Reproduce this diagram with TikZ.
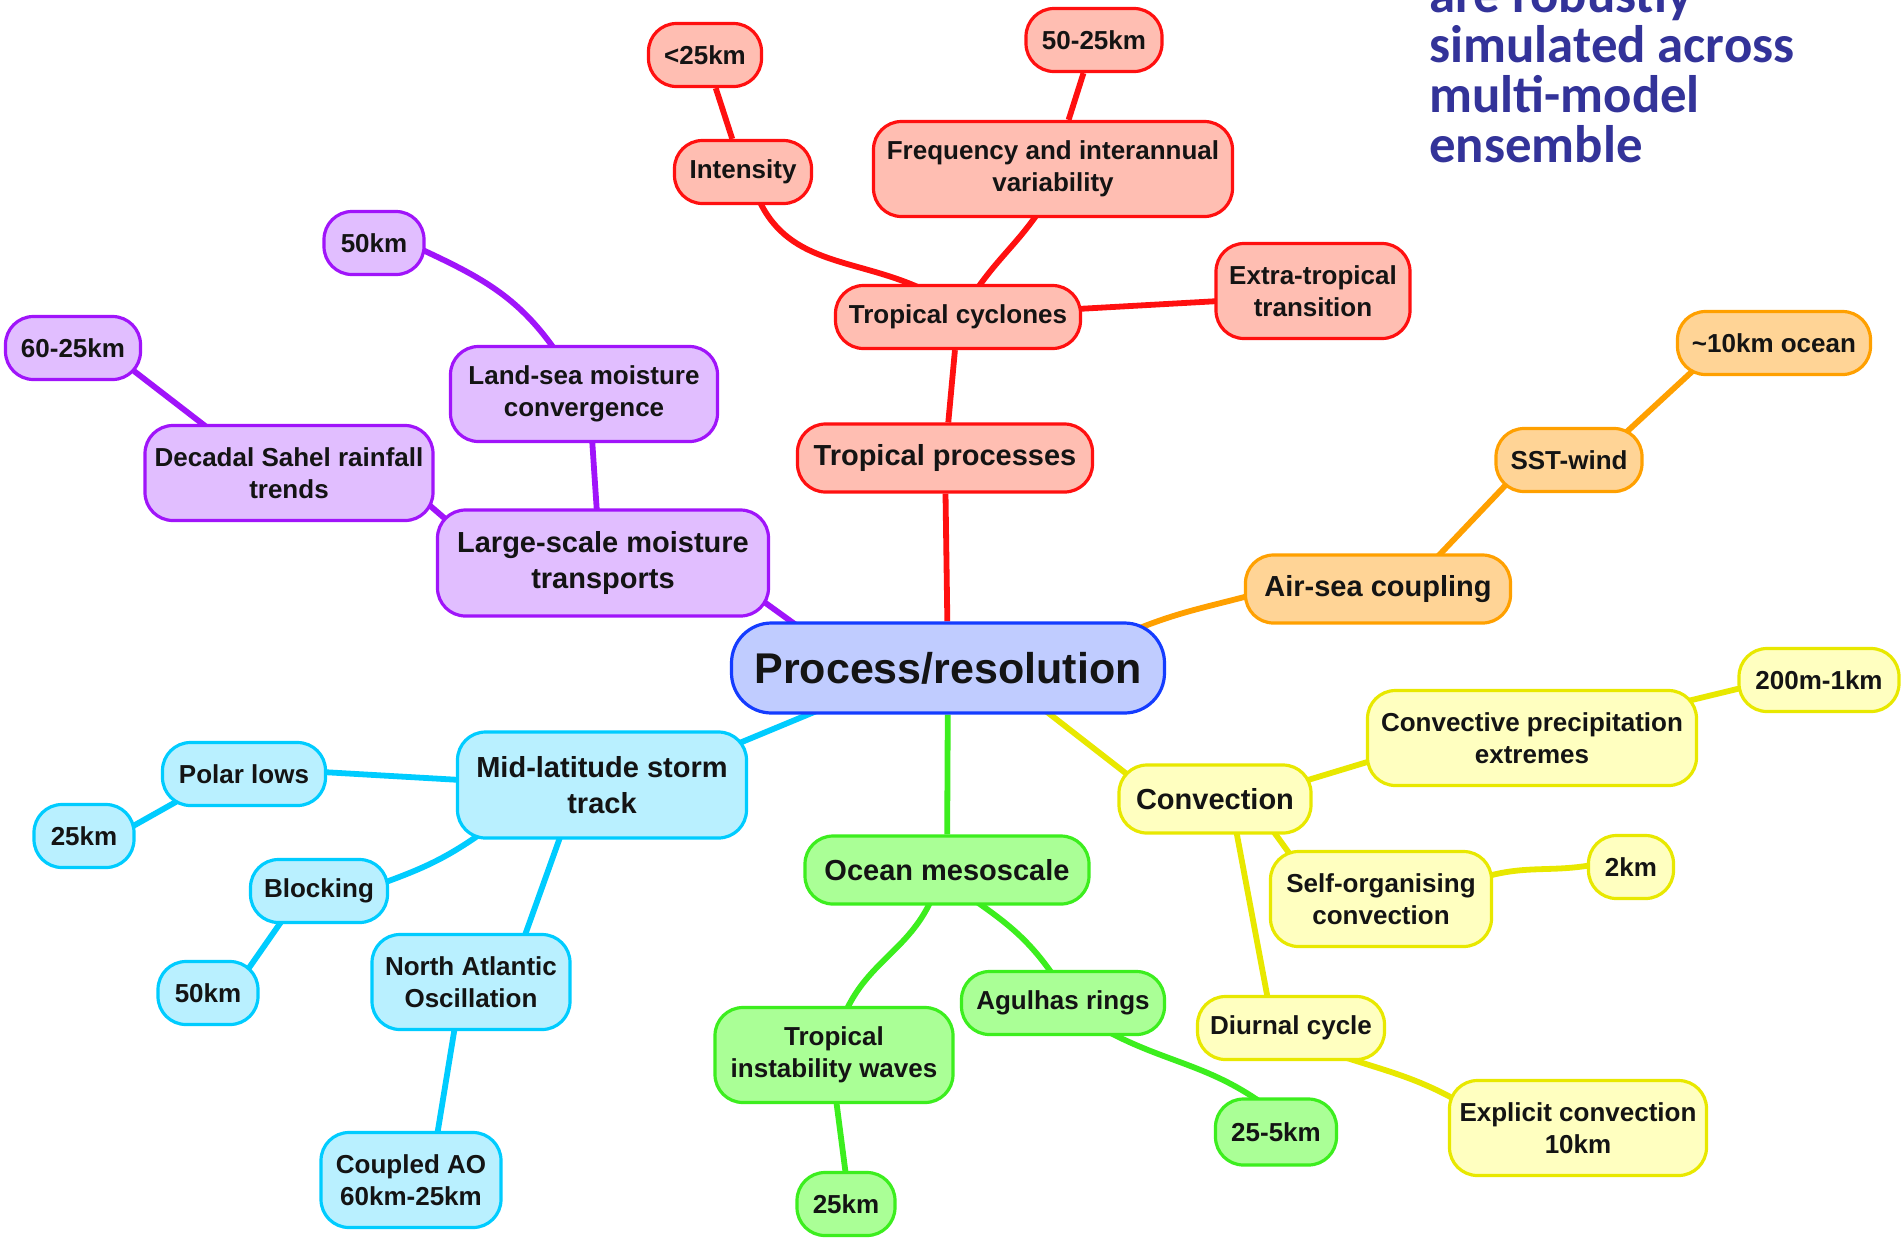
\documentclass[tikz,border=0pt]{standalone}
\usepackage{fontspec}
\setmainfont{Liberation Sans}
\newfontfamily\carl{Carlito}
\usetikzlibrary{calc,backgrounds}
\definecolor{redB}{RGB}{255,16,16}\definecolor{redF}{RGB}{255,190,178}
\definecolor{purB}{RGB}{160,20,250}\definecolor{purF}{RGB}{225,190,255}
\definecolor{oraB}{RGB}{255,160,0}\definecolor{oraF}{RGB}{255,212,150}
\definecolor{yelB}{RGB}{232,232,0}\definecolor{yelF}{RGB}{255,255,192}
\definecolor{greB}{RGB}{60,238,30}\definecolor{greF}{RGB}{170,255,150}
\definecolor{cyaB}{RGB}{0,204,255}\definecolor{cyaF}{RGB}{185,240,255}
\definecolor{cenB}{RGB}{20,60,255}\definecolor{cenF}{RGB}{192,204,255}
\definecolor{txt}{RGB}{20,20,20}
\definecolor{navy}{RGB}{51,51,153}
\newcommand\fsmall{\bfseries\fontsize{13pt}{15.75pt}\selectfont}
\newcommand\fmed{\bfseries\fontsize{14.5pt}{18pt}\selectfont}
\newcommand\fcen{\bfseries\fontsize{21.5pt}{25pt}\selectfont}
\tikzset{
  mm/.style={draw, rounded corners=14pt, line width=1.6pt, text=txt, align=center, inner sep=0pt},
  sa/.style={mm, minimum height=31.5pt, font=\fsmall},
  sb/.style={mm, minimum height=47.5pt, font=\fsmall},
  ma/.style={mm, minimum height=34pt, font=\fmed},
  mb/.style={mm, minimum height=53pt, font=\fmed},
  wd/.style={minimum width=#1*0.5pt},
  rednode/.style={draw=redB, fill=redF},
  purnode/.style={draw=purB, fill=purF},
  oranode/.style={draw=oraB, fill=oraF},
  yelnode/.style={draw=yelB, fill=yelF},
  grenode/.style={draw=greB, fill=greF},
  cyanode/.style={draw=cyaB, fill=cyaF},
  edge/.style={line width=2.9pt},
  redE/.style={edge, draw=redB},
  purE/.style={edge, draw=purB},
  oraE/.style={edge, draw=oraB},
  yelE/.style={edge, draw=yelB},
  greE/.style={edge, draw=greB},
  cyaE/.style={edge, draw=cyaB},
}
\begin{document}
\begin{tikzpicture}[x=0.5pt,y=0.5pt]
\useasboundingbox (0,0) rectangle (1903,-1239);
% root
\node[mm, rounded corners=20pt, draw=cenB, fill=cenF, font=\fcen, minimum width=216.5pt, minimum height=45pt] (root) at (948,-668) {Process/resolution};
% red
\node[sa, rednode, wd=113] (lt25) at (705,-55) {<25km};
\node[sa, rednode, wd=136] (k5025) at (1094,-40) {50-25km};
\node[sa, rednode, wd=137] (intensity) at (743,-172) {Intensity};
\node[sb, rednode, wd=359] (freq) at (1053,-169) {Frequency and interannual\\variability};
\node[sa, rednode, wd=245] (tc) at (958,-317) {Tropical cyclones};
\node[sb, rednode, wd=194] (extra) at (1313,-291) {Extra-tropical\\transition};
\node[ma, rednode, wd=295] (tp) at (945,-458) {Tropical processes};
% purple
\node[sa, purnode, wd=100] (p50) at (374,-243) {50km};
\node[sa, purnode, wd=135] (p6025) at (73,-348) {60-25km};
\node[sb, purnode, wd=267] (landsea) at (584,-394) {Land-sea moisture\\convergence};
\node[sb, purnode, wd=288] (decadal) at (289,-473) {Decadal Sahel rainfall\\trends};
\node[mb, purnode, wd=331] (largescale) at (603,-563) {Large-scale moisture\\transports};
% orange
\node[sa, oranode, wd=193] (o10) at (1774,-343) {\textasciitilde 10km ocean};
\node[sa, oranode, wd=146] (sst) at (1569,-460) {SST-wind};
\node[ma, oranode, wd=265] (airsea) at (1378,-589) {Air-sea coupling};
% yellow
\node[sa, yelnode, wd=160] (y200) at (1819,-680) {200m-1km};
\node[sb, yelnode, wd=329] (convprec) at (1532,-738) {Convective precipitation\\extremes};
\node[ma, yelnode, wd=192] (convection) at (1215,-799) {Convection};
\node[sb, yelnode, wd=221] (selforg) at (1381,-899) {Self-organising\\convection};
\node[sa, yelnode, wd=85] (y2km) at (1631,-867) {2km};
\node[sa, yelnode, wd=187] (diurnal) at (1291,-1028) {Diurnal cycle};
\node[sb, yelnode, wd=257] (explicit) at (1578,-1128) {Explicit convection\\10km};
% green
\node[ma, grenode, wd=284] (om) at (947,-870) {Ocean mesoscale};
\node[sa, grenode, wd=203] (agulhas) at (1063,-1003) {Agulhas rings};
\node[sb, grenode, wd=238] (tiw) at (834,-1055) {Tropical\\instability waves};
\node[sa, grenode, wd=121, minimum height=33pt] (g255) at (1276,-1132) {25-5km};
\node[sa, grenode, wd=98] (g25) at (846,-1204) {25km};
% cyan
\node[sa, cyanode, wd=163] (polar) at (244,-774) {Polar lows};
\node[sa, cyanode, wd=100] (b25) at (84,-836) {25km};
\node[mb, cyanode, wd=289] (midlat) at (602,-785) {Mid-latitude storm\\track};
\node[sa, cyanode, wd=137] (blocking) at (319,-891) {Blocking};
\node[sa, cyanode, wd=100] (b50) at (208,-993) {50km};
\node[sb, cyanode, wd=198] (nao) at (471,-982) {North Atlantic\\Oscillation};
\node[sb, cyanode, wd=180] (coupled) at (411,-1180) {Coupled AO\\60km-25km};
% text top right
\begin{scope}
\clip (0,0) rectangle (1903,-1239);
\node[anchor=base west, inner sep=0pt, align=left, text=navy, font=\carl\bfseries\fontsize{26.4pt}{25pt}\selectfont] (note) at (1429,-162) {are robustly\\simulated across\\multi-model\\ensemble};
\end{scope}
\begin{pgfonlayer}{background}
\fill[white] (0,0) rectangle (1903,-1239);
% red
\draw[redE] (root) -- (tp);
\draw[redE] (tp) -- (tc);
\draw[redE] ($(tc.north)+(-36,-5)$) to[out=155,in=-65] ($(intensity.south)+(16,5)$);
\draw[redE] ($(tc.north)+(19,-5)$) to[out=55,in=-125] ($(freq.south)+(-15,5)$);
\draw[redE] ($(tc.east)+(-5,8)$) -- ($(extra.west)+(5,-10)$);
\draw[redE] (intensity) -- (lt25);
\draw[redE] (freq) -- (k5025);
% purple
\draw[purE] ($(root.north)+(-150,-5)$) -- ($(largescale.south east)+(-12,20)$);
\draw[purE] ($(largescale.north)+(-6,-5)$) -- ($(landsea.south)+(8,5)$);
\draw[purE] ($(decadal.east)+(-10,-28)$) -- ($(largescale.west)+(20,35)$);
\draw[purE] ($(p50.east)+(-5,-6)$) to[out=-25,in=125] ($(landsea.north)+(-29,-5)$);
\draw[purE] ($(decadal.north)+(-80,-5)$) -- ($(p6025.south east)+(-8,10)$);
% orange
\draw[oraE] ($(root.north east)+(-30,-8)$) to[out=22,in=195] ($(airsea.west)+(8,-6)$);
\draw[oraE] ($(airsea.north)+(58,-5)$) -- ($(sst.south west)+(15,12)$);
\draw[oraE] ($(sst.north east)+(-18,-6)$) -- ($(o10.south west)+(22,10)$);
% yellow
\draw[yelE] ($(root.south)+(96,5)$) -- ($(convection.north west)+(15,-15)$);
\draw[yelE] ($(convection.east)+(-8,18)$) -- ($(convprec.west)+(8,-22)$);
\draw[yelE] ($(convprec.north east)+(-10,-12)$) -- ($(y200.west)+(8,-7)$);
\draw[yelE] ($(convection.south)+(55,8)$) -- ($(selforg.north west)+(28,-14)$);
\draw[yelE] ($(convection.south)+(21,5)$) -- ($(diurnal.north)+(-23,-5)$);
\draw[yelE] ($(selforg.east)+(-5,23)$) to[out=15,in=190] ($(y2km.west)+(5,2)$);
\draw[yelE] ($(diurnal.south)+(50,5)$) to[out=-18,in=150] ($(explicit.north west)+(15,-25)$);
% green
\draw[greE] (root) -- (om);
\draw[greE] ($(om.south)+(-16,5)$) to[out=-115,in=65] ($(tiw.north)+(12,-5)$);
\draw[greE] ($(om.south)+(28,5)$) to[out=-35,in=125] ($(agulhas.north)+(-10,-5)$);
\draw[greE] ($(agulhas.south)+(44,5)$) to[out=-28,in=145] ($(g255.north)+(-15,-5)$);
\draw[greE] ($(tiw.south)+(2,5)$) -- ($(g25.north)+(0,-5)$);
% cyan
\draw[cyaE] ($(root.south)+(-128,5)$) -- ($(midlat.north east)+(-12,-14)$);
\draw[cyaE] ($(midlat.west)+(5,5)$) -- ($(polar.east)+(-5,2)$);
\draw[cyaE] ($(polar.south west)+(20,8)$) -- ($(b25.east)+(-6,8)$);
\draw[cyaE] ($(midlat.south west)+(25,6)$) to[out=-145,in=20] ($(blocking.east)+(-6,8)$);
\draw[cyaE] ($(blocking.south)+(-36,5)$) -- ($(b50.north east)+(-12,-10)$);
\draw[cyaE] ($(midlat.south)+(-41,5)$) -- ($(nao.north)+(53,-5)$);
\draw[cyaE] ($(nao.south)+(-16,5)$) -- ($(coupled.north)+(26,-5)$);
\end{pgfonlayer}
\end{tikzpicture}
\end{document}
